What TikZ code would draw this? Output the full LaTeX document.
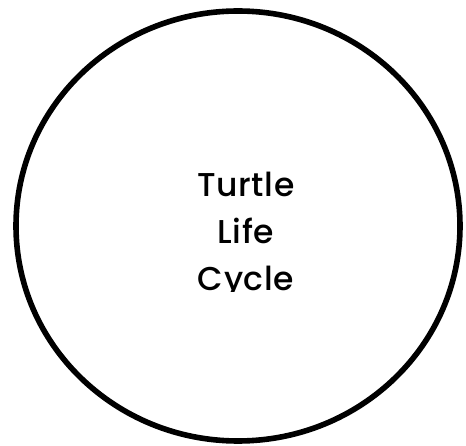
\documentclass[tikz,border=0pt]{standalone}
\usepackage{fontspec}
\setmainfont{Poppins}[UprightFont=* Medium, LetterSpace=2]
\usetikzlibrary{shapes.geometric}

\tikzset{
  ring/.style={draw=black, line width=5.6pt},
  label text/.style={anchor=base, inner sep=0pt, font=\fontsize{33}{36}\selectfont}
}

\begin{document}
\begin{tikzpicture}[x=1pt, y=-1pt]
    \useasboundingbox (0,0) rectangle (466,446);

    % Outer ring
    \node[ring, ellipse, minimum width=444pt, minimum height=430pt, inner sep=0pt] (cycle ring) at (238,226) {};

    % Title, cut off at the bottom line
    \begin{scope}
        \clip (0,0) rectangle (466,292);
        \node[label text] (turtle) at (246,197) {Turtle};
        \node[label text] (life) at (246,244) {Life};
        \node[label text] (cycle) at (246,291) {Cycle};
    \end{scope}
\end{tikzpicture}
\end{document}
